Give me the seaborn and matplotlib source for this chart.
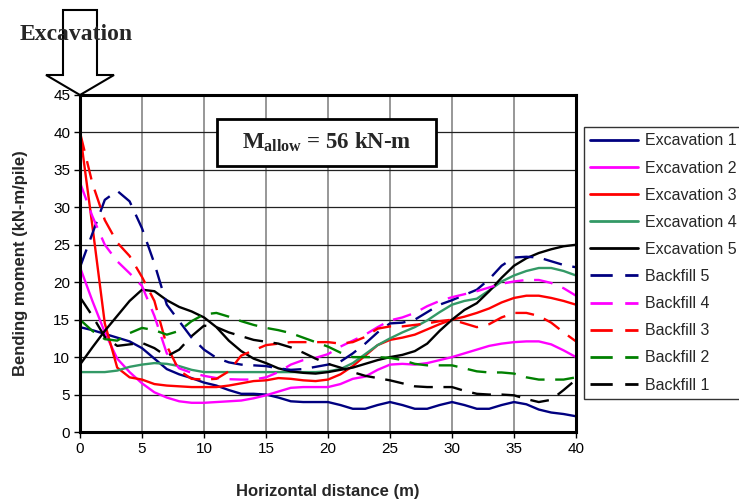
import matplotlib
matplotlib.use('Agg')
import matplotlib.pyplot as plt
from matplotlib.patches import Polygon, Rectangle
import numpy as np
import pandas as pd
import seaborn as sns

# Data
dist = list(range(41))

exc1 = [14.0, 13.6, 13.1, 12.6, 12.1, 11.2, 9.8, 8.4, 7.7, 7.2, 6.6, 6.2, 5.6, 5.1, 5.1, 5.0, 4.6, 4.1, 4.0, 4.0,
        4.0, 3.6, 3.1, 3.1, 3.6, 4.0, 3.6, 3.1, 3.1, 3.6, 4.0, 3.6, 3.1, 3.1, 3.6, 4.0, 3.7, 3.0, 2.6, 2.4, 2.1]
exc2 = [22.0, 17.5, 13.3, 9.8, 8.0, 6.5, 5.3, 4.6, 4.1, 3.9, 3.9, 4.0, 4.1, 4.2, 4.5, 4.9, 5.4, 5.9, 6.0, 6.0,
        6.0, 6.4, 7.1, 7.4, 8.3, 9.0, 9.1, 9.0, 9.2, 9.6, 10.0, 10.5, 11.0, 11.5, 11.8, 12.0, 12.1, 12.1, 11.7, 10.9, 10.0]
exc3 = [40.0, 27.5, 14.5, 8.6, 7.3, 7.0, 6.4, 6.2, 6.1, 6.0, 6.0, 6.0, 6.2, 6.5, 6.8, 6.9, 7.2, 7.1, 6.9, 6.8,
        7.0, 7.7, 8.8, 10.2, 11.6, 12.3, 12.6, 13.0, 13.7, 14.4, 15.0, 15.4, 15.9, 16.5, 17.3, 17.9, 18.2, 18.2, 17.9, 17.5, 17.0]
exc4 = [8.0, 8.0, 8.0, 8.2, 8.7, 9.0, 9.2, 9.1, 8.8, 8.3, 8.0, 8.0, 8.0, 8.0, 8.0, 8.0, 8.0, 8.0, 8.0, 8.0,
        8.1, 8.4, 9.2, 10.4, 11.6, 12.5, 13.3, 14.0, 14.9, 16.0, 17.0, 17.5, 17.8, 18.9, 20.1, 20.9, 21.5, 21.9, 21.9, 21.5, 20.9]
exc5 = [9.0, 11.3, 13.5, 15.5, 17.5, 19.0, 18.8, 17.6, 16.7, 16.1, 15.3, 14.0, 12.2, 10.8, 9.8, 9.2, 8.5, 8.1, 7.9, 7.8,
        8.0, 8.3, 8.6, 9.1, 9.6, 10.0, 10.3, 10.8, 11.8, 13.5, 15.0, 16.3, 17.2, 18.8, 20.6, 22.2, 23.2, 23.9, 24.4, 24.8, 25.0]
bf5 = [22.0, 26.5, 31.0, 32.2, 30.8, 27.2, 22.5, 17.0, 14.8, 12.6, 11.0, 9.9, 9.3, 9.0, 8.9, 8.8, 8.5, 8.3, 8.4, 8.7,
       9.0, 9.4, 10.5, 11.8, 13.3, 14.5, 14.6, 15.0, 16.0, 17.0, 17.6, 18.3, 19.0, 20.4, 22.2, 23.3, 23.4, 23.3, 22.8, 22.3, 22.0]
bf4 = [33.3, 28.8, 25.0, 22.8, 21.2, 19.5, 15.5, 10.5, 8.5, 7.9, 7.5, 7.2, 7.05, 7.0, 7.0, 7.3, 8.0, 9.0, 9.6, 9.9,
       10.4, 11.4, 12.2, 13.0, 14.0, 14.9, 15.3, 15.9, 16.8, 17.5, 18.0, 18.4, 18.8, 19.3, 19.8, 20.1, 20.3, 20.3, 19.9, 19.2, 18.2]
bf3 = [40.0, 33.2, 28.3, 25.3, 23.5, 20.7, 17.5, 11.5, 8.2, 7.1, 7.0, 7.1, 8.1, 10.2, 10.9, 11.6, 11.8, 12.0, 12.0, 12.0,
       12.0, 11.8, 12.0, 12.7, 13.8, 14.1, 14.1, 14.3, 14.5, 14.8, 15.0, 14.5, 14.0, 14.4, 15.3, 15.9, 15.9, 15.5, 14.6, 13.3, 12.1]
bf2 = [15.0, 13.5, 12.4, 12.2, 13.2, 13.9, 13.6, 13.0, 13.5, 14.8, 15.7, 15.9, 15.4, 14.8, 14.3, 13.9, 13.6, 13.2, 12.6, 12.0,
       11.4, 10.6, 10.0, 10.0, 10.0, 9.9, 9.6, 9.1, 8.9, 8.9, 8.9, 8.5, 8.1, 7.95, 7.95, 7.8, 7.3, 7.0, 7.0, 7.0, 7.3]
bf1 = [18.0, 15.5, 12.7, 11.5, 11.7, 11.9, 11.2, 10.1, 11.0, 12.8, 14.2, 14.0, 13.3, 12.8, 12.3, 12.05, 11.8, 11.3, 10.6, 9.8,
       9.1, 8.6, 8.0, 7.5, 7.2, 6.9, 6.5, 6.1, 6.0, 6.0, 6.0, 5.5, 5.1, 5.0, 5.0, 4.9, 4.4, 4.0, 4.3, 5.6, 7.0]

cases = ["Excavation 1", "Excavation 2", "Excavation 3", "Excavation 4", "Excavation 5",
         "Backfill 5", "Backfill 4", "Backfill 3", "Backfill 2", "Backfill 1"]
series = [exc1, exc2, exc3, exc4, exc5, bf5, bf4, bf3, bf2, bf1]
colors = ["#000080", "#FF00FF", "#FF0000", "#339966", "#000000",
          "#000080", "#FF00FF", "#FF0000", "#008000", "#000000"]
dash_list = ["", "", "", "", "", (8, 4.5), (8, 4.5), (8, 4.5), (8, 4.5), (8, 4.5)]

df = pd.DataFrame({"distance": dist})
for name, vals in zip(cases, series):
    df[name] = vals
long = df.melt(id_vars="distance", var_name="case", value_name="moment")

# Style
sns.set_style("white")
plt.rcParams['font.family'] = ['Liberation Sans', 'DejaVu Sans']
plt.rcParams['mathtext.fontset'] = 'custom'
plt.rcParams['mathtext.rm'] = 'Liberation Serif:bold'
plt.rcParams['mathtext.bf'] = 'Liberation Serif:bold'

W, H = 739, 504
fig = plt.figure(figsize=(W / 100, H / 100), dpi=100)
ax = fig.add_axes([80 / W, 1 - 432 / H, 496 / W, 337 / H])

sns.lineplot(data=long, x="distance", y="moment", hue="case", style="case",
             hue_order=cases, style_order=cases,
             palette=dict(zip(cases, colors)), dashes=dict(zip(cases, dash_list)),
             linewidth=1.7, estimator=None, sort=False, ax=ax)

ax.set_xlim(0, 40)
ax.set_ylim(0, 45)
ax.set_xticks(np.arange(0, 41, 5))
ax.set_yticks(np.arange(0, 46, 5))
ax.set_axisbelow(True)
ax.xaxis.grid(True, color="#7a7a7a", lw=1.1)
ax.yaxis.grid(True, color="#222222", lw=0.9)
for sp in ax.spines.values():
    sp.set_visible(True)
    sp.set_color("black")
    sp.set_linewidth(2.2)
ax.tick_params(bottom=True, left=True, direction="out", length=4, width=1,
               labelsize=11, pad=3, colors="black")

ax.set_xlabel("Horizontal distance (m)", fontsize=12, fontweight="bold")
ax.set_ylabel("Bending moment (kN-m/pile)", fontsize=12, fontweight="bold")
ax.xaxis.set_label_coords(0.5, -0.155)
ax.yaxis.set_label_coords(-0.105, 0.5)

# M_allow box
ax.add_patch(Rectangle((0.276, 0.789), 0.4415, 0.1395, transform=ax.transAxes,
                       fc="white", ec="black", lw=2, zorder=5))
ax.text(0.497, 0.859, r"M$_{\mathbf{allow}}$ = 56 kN-m", transform=ax.transAxes,
        ha="center", va="center", family="Liberation Serif", fontweight="bold",
        fontsize=16.5, zorder=6)

# Excavation arrow
pts = [(63, 10), (97, 10), (97, 75), (114, 75), (80, 95), (46, 75), (63, 75)]
arrow = Polygon([(x / W, 1 - y / H) for x, y in pts], closed=True,
                transform=fig.transFigure, fc="none", ec="black", lw=1.5)
fig.patches.append(arrow)
fig.text(76 / W, 1 - 34 / H, "Excavation", ha="center", va="center",
         family="Liberation Serif", fontweight="bold", fontsize=17)

# Legend
old = ax.get_legend()
handles = old.legend_handles
labels = [t.get_text() for t in old.get_texts()]
old.remove()
leg = ax.legend(handles, labels, loc="upper left",
                bbox_to_anchor=(584 / W, 1 - 127 / H), bbox_transform=fig.transFigure,
                frameon=True, fancybox=False, shadow=False, edgecolor="black",
                fontsize=11.5, handlelength=3.0, handletextpad=0.4,
                labelspacing=0.76, borderpad=0.4, borderaxespad=0)
leg.get_frame().set_linewidth(1.0)
for h in leg.get_lines():
    h.set_linewidth(2.0)

fig.savefig("out.png", dpi=100)
